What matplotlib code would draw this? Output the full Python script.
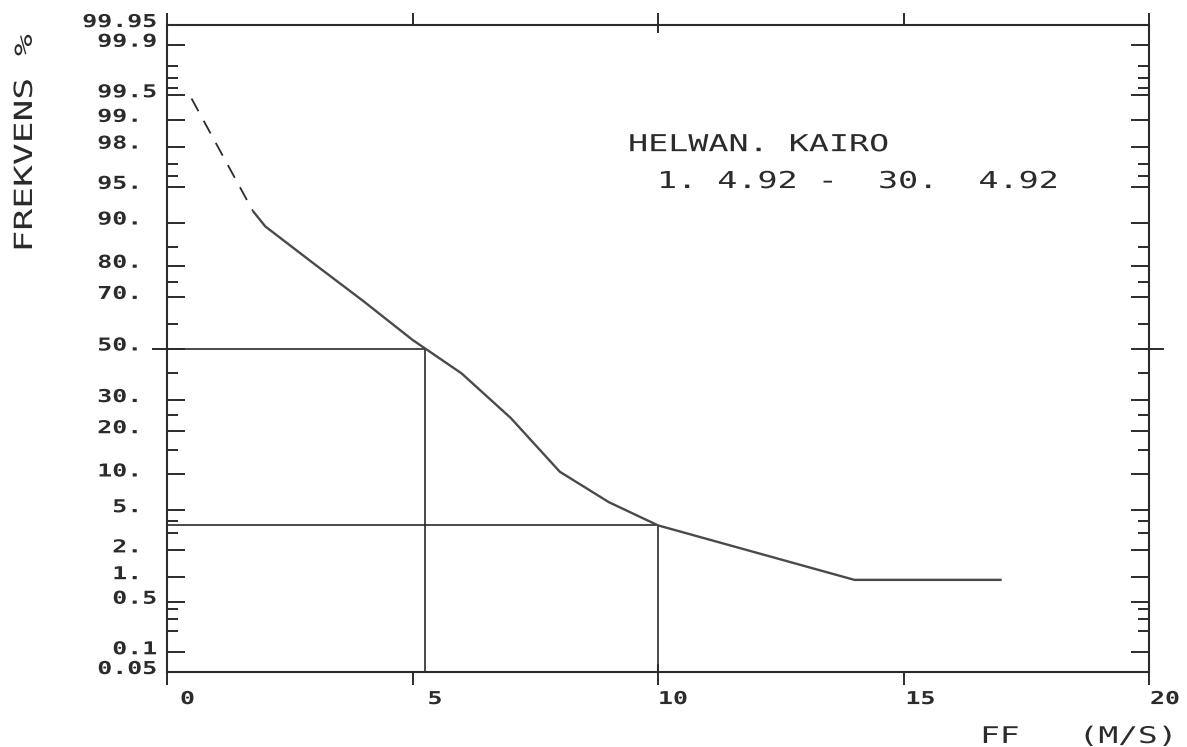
import math
from statistics import NormalDist

import numpy as np
import matplotlib
matplotlib.use("Agg")
import matplotlib.pyplot as plt
from matplotlib.patheffects import AbstractPathEffect
from matplotlib.ticker import NullFormatter
from matplotlib.transforms import Affine2D, ScaledTranslation

# wind speed FF (m/s) against frequency of exceedance (%)
speed = [1.75, 2, 3, 4, 5, 6, 7, 8, 9, 10, 14, 17]
freq = [91.9, 89.3, 80.5, 68.5, 53.5, 40.0, 24.0, 10.5, 5.9, 3.6, 0.93, 0.93]
# extrapolated part towards calm
calm_speed = [0.5, 1.75]
calm_freq = [99.45, 91.9]

x_ticks = [0, 5, 10, 15, 20]
x_labels = ["0", "5", "10", "15", "20"]
x_label_shift = [13, 15, 0, 2, 1]  # px, plotter puts the numbers right of the tick

y_ticks = [0.05, 0.1, 0.5, 1, 2, 5, 10, 20, 30, 50, 70, 80, 90, 95, 98, 99,
           99.5, 99.9, 99.95]
y_labels = [" 0.05", "  0.1", "  0.5", "  1.", "  2.", "  5.", " 10.", " 20.",
            " 30.", " 50.", " 70.", " 80.", " 90.", " 95.", " 98.", " 99.",
            " 99.5", " 99.9", "99.95"]
y_minor = [0.2, 0.3, 0.4, 3, 4, 15, 25, 40, 60, 75, 85, 96, 97, 99.6, 99.7, 99.8]

station = "HELWAN. KAIRO"
period = "1. 4.92 -  30.  4.92"

ink = "#2b2b2b"
mono = "DejaVu Sans Mono"

_nd = NormalDist()
_ppf = np.vectorize(_nd.inv_cdf, otypes=[float])
_erf = np.vectorize(math.erf, otypes=[float])


def probit(p):
    p = np.clip(np.asarray(p, dtype=float) / 100.0, 1e-12, 1 - 1e-12)
    return _ppf(p)


def inv_probit(z):
    return 50.0 * (1.0 + _erf(np.asarray(z, dtype=float) / math.sqrt(2.0)))


class Widen(AbstractPathEffect):
    """Stretch glyphs along the baseline, like pen plotter lettering."""

    def __init__(self, factor, pivot="left"):
        super().__init__()
        self.factor = factor
        self.pivot = pivot

    def draw_path(self, renderer, gc, tpath, affine, rgbFace=None):
        if self.pivot == "left":
            x0 = 0.0
        else:
            ext = tpath.get_extents()
            x0 = ext.x1 if self.pivot == "right" else 0.5 * (ext.x0 + ext.x1)
        wide = Affine2D().translate(-x0, 0).scale(self.factor, 1).translate(x0, 0)
        renderer.draw_path(gc, tpath, wide + affine, rgbFace)


fig = plt.figure(figsize=(11.87, 7.47), dpi=100)
ax = fig.add_axes([167 / 1187, 75 / 747, 982 / 1187, 647 / 747])

ax.set_xlim(0, 20)
ax.set_yscale("function", functions=(probit, inv_probit))
ax.set_ylim(0.05, 99.95)

for side in ax.spines.values():
    side.set_linewidth(1.5)
    side.set_color(ink)

ax.set_xticks(x_ticks, x_labels)
ax.set_xticks([10], minor=True)
ax.xaxis.remove_overlapping_locs = False
ax.set_yticks(y_ticks, y_labels)
ax.set_yticks(y_minor, minor=True)
ax.yaxis.set_minor_formatter(NullFormatter())

ax.tick_params(axis="x", which="major", direction="out", length=9, width=1.4,
               top=True, bottom=True, color=ink, pad=4, labelsize=12.8,
               labelcolor=ink)
ax.tick_params(axis="x", which="minor", direction="in", length=6, width=1.4,
               top=True, bottom=True, color=ink)
ax.tick_params(axis="y", which="major", direction="in", length=13, width=1.4,
               left=True, right=True, color=ink, pad=61, labelsize=12.8,
               labelcolor=ink)
ax.tick_params(axis="y", which="minor", direction="in", length=8, width=1.4,
               left=True, right=True, color=ink)

for lbl, dx in zip(ax.get_xticklabels(), x_label_shift):
    lbl.set_fontfamily(mono)
    lbl.set_fontweight("bold")
    lbl.set_horizontalalignment("left")
    lbl.set_transform(lbl.get_transform()
                      + ScaledTranslation(dx / 100, 0, fig.dpi_scale_trans))
    lbl.set_path_effects([Widen(1.4)])

for lbl in ax.get_yticklabels():
    lbl.set_fontfamily(mono)
    lbl.set_fontweight("bold")
    lbl.set_horizontalalignment("left")
    lbl.set_verticalalignment("baseline")
    lbl.set_transform(lbl.get_transform()
                      + ScaledTranslation(0, -2 / 100, fig.dpi_scale_trans))
    lbl.set_path_effects([Widen(1.4)])

# frequency curve, dashed where it is extrapolated
ax.plot(speed, freq, color="#4a4a4a", lw=1.7, solid_capstyle="butt", zorder=3)
ax.plot(calm_speed, calm_freq, color=ink, lw=1.3, ls=(0, (8, 6)), zorder=3)

# median wind speed and frequency of winds above 10 m/s
z = probit(freq)
median = float(np.interp(0.0, -z[:-1], speed[:-1]))
above10 = freq[speed.index(10)]
bottom = ax.get_ylim()[0]
ref = dict(color=ink, lw=1.2, zorder=2.4)
ax.hlines(50, 0, median, **ref)
ax.vlines(median, bottom, 50, **ref)
ax.hlines(above10, 0, 10, **ref)
ax.vlines(10, bottom, above10, **ref)
ax.axhline(50, xmin=-14 / 982, xmax=0, clip_on=False, color=ink, lw=1.4)
ax.axhline(50, xmin=1, xmax=1 + 14 / 982, clip_on=False, color=ink, lw=1.4)

ax.text(0.4695, 0.805, station, transform=ax.transAxes, ha="left",
        va="baseline", fontsize=16.8, family=mono, color=ink,
        path_effects=[Widen(1.43)])
ax.text(0.499, 0.748, period, transform=ax.transAxes, ha="left",
        va="baseline", fontsize=16.8, family=mono, color=ink,
        path_effects=[Widen(1.43)])

ax.set_xlabel("FF   (M/S)", fontsize=16.5, family=mono, color=ink,
              ha="left", va="baseline", path_effects=[Widen(1.43)])
ax.xaxis.set_label_coords(0.828, -0.1097)
ax.set_ylabel("FREKVENS %", fontsize=18, family=mono, color=ink,
              ha="center", va="baseline", path_effects=[Widen(1.45, "center")])
ax.yaxis.set_label_coords(-0.1375, 0.8176)

fig.savefig("out.png", dpi=100)
